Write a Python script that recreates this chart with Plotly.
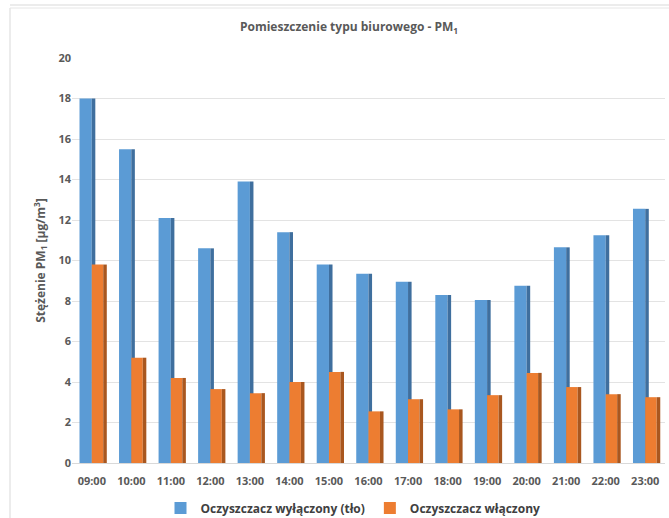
import plotly.graph_objects as go

hours = ["09:00", "10:00", "11:00", "12:00", "13:00", "14:00", "15:00", "16:00",
         "17:00", "18:00", "19:00", "20:00", "21:00", "22:00", "23:00"]
off_vals = [18.0, 15.5, 12.1, 10.6, 13.9, 11.4, 9.8, 9.35, 8.95, 8.3, 8.05, 8.75, 10.65, 11.25, 12.55]
on_vals = [9.8, 5.2, 4.2, 3.65, 3.45, 4.0, 4.5, 2.55, 3.15, 2.65, 3.35, 4.45, 3.75, 3.4, 3.25]
y_ticks = [0, 2, 4, 6, 8, 10, 12, 14, 16, 18, 20]

BLUE, BLUE_SIDE = "#5B9BD5", "#3F6F9E"
ORANGE, ORANGE_SIDE = "#ED7D31", "#A9571F"
TXT = "#595959"
FONT = "Open Sans"

fig = go.Figure()
fig.add_trace(go.Bar(x=hours, y=off_vals, name="Oczyszczacz wyłączony (tło)",
                     marker=dict(color=BLUE, line=dict(width=0)), offset=-0.31, width=0.31))
fig.add_trace(go.Bar(x=hours, y=off_vals, showlegend=False, hoverinfo="skip",
                     marker=dict(color=BLUE_SIDE, line=dict(width=0)), offset=0.0, width=0.09))
fig.add_trace(go.Bar(x=hours, y=on_vals, name="Oczyszczacz włączony",
                     marker=dict(color=ORANGE, line=dict(width=0)), offset=0.0, width=0.29))
fig.add_trace(go.Bar(x=hours, y=on_vals, showlegend=False, hoverinfo="skip",
                     marker=dict(color=ORANGE_SIDE, line=dict(width=0)), offset=0.29, width=0.09))

L, R, T, B = 72, 4, 58, 55
W, H = 669, 518
pw, ph = W - L - R, H - T - B

def px_x(x):
    return (x - L) / pw

def px_y(y):
    return (H - B - y) / ph

fig.update_layout(
    width=W, height=H,
    margin=dict(l=L, r=R, t=T, b=B, autoexpand=False),
    barmode="overlay",
    plot_bgcolor="white", paper_bgcolor="white",
    font=dict(family=FONT, color=TXT),
    title=dict(text="Pomieszczenie typu biurowego - PM<sub>1</sub>",
               x=349 / W, xanchor="center", y=1 - 27 / H, yanchor="middle",
               xref="container", yref="container",
               font=dict(size=12, color=TXT, family=FONT, weight="bold")),
    xaxis=dict(showgrid=False, showline=True, linecolor="#D9D9D9", linewidth=1,
               ticks="", ticklabelstandoff=8, automargin=False,
               tickfont=dict(size=11, color=TXT, family=FONT, weight="bold")),
    yaxis=dict(range=[0, 20], tickvals=y_ticks, showgrid=True, gridcolor="#E3E3E3",
               gridwidth=1, zeroline=False, showline=False, ticks="", automargin=False,
               tickfont=dict(size=11, color=TXT, family=FONT, weight="bold"),
               title=dict(text="Stężenie PM<sub>1</sub> [µg/m<sup>3</sup>]",
                          font=dict(size=12, color=TXT, family=FONT, weight="bold"),
                          standoff=10)),
    legend=dict(orientation="h", x=353 / W, xanchor="center", xref="container",
                y=1 - 508 / H, yanchor="middle", yref="container",
                font=dict(size=12, color="#404040", family=FONT, weight="bold"),
                itemwidth=30, traceorder="normal"),
    shapes=[
        dict(type="line", xref="paper", yref="paper", x0=px_x(10), x1=px_x(10),
             y0=px_y(8), y1=px_y(518), line=dict(color="#D9D9D9", width=1)),
        dict(type="line", xref="paper", yref="paper", x0=px_x(10), x1=px_x(669),
             y0=px_y(5), y1=px_y(5), line=dict(color="#D9D9D9", width=1)),
        dict(type="line", xref="paper", yref="paper", x0=px_x(10), x1=px_x(669),
             y0=px_y(8), y1=px_y(8), line=dict(color="#E6E6E6", width=1)),
    ],
)

fig.write_html("out.html", config={"displayModeBar": False},
               post_script="document.body.style.margin='0';document.body.style.overflow='hidden';")
